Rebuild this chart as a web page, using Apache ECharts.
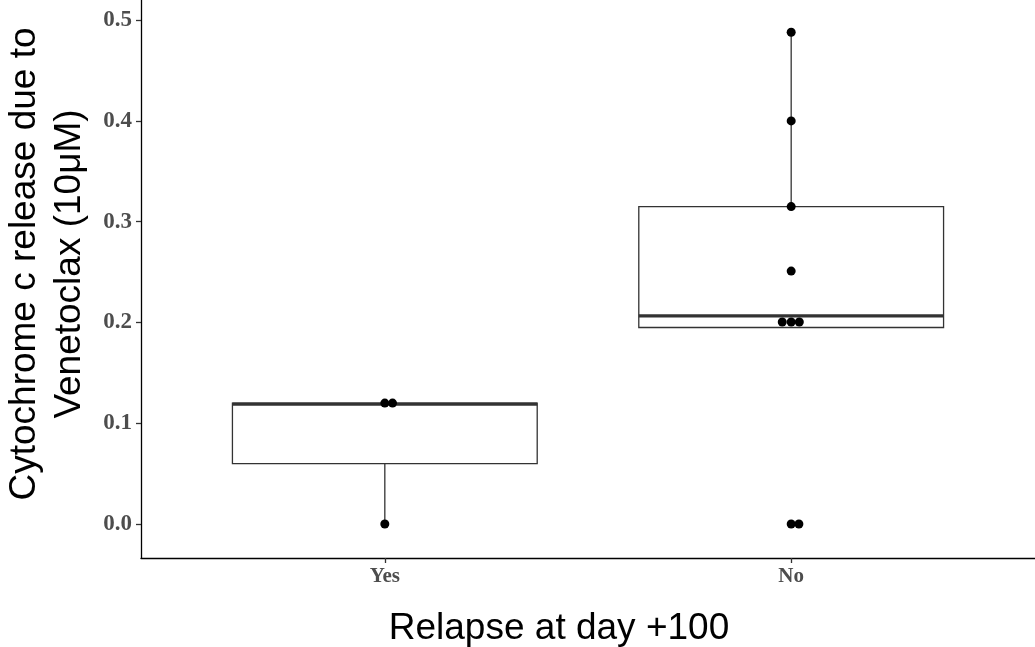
<!DOCTYPE html>
<html lang="en">
<head>
    <meta charset="UTF-8">
    <title>Cytochrome c release vs relapse</title>
    <script src="https://cdn.jsdelivr.net/npm/echarts/dist/echarts.min.js"></script>
    <style>
        html, body { margin: 0; padding: 0; background: #fff; }
        #main { width: 1035px; height: 647px; }
    </style>
</head>
<body>
    <div id="main"></div>
    <script>
        // groups on the x axis
        var categories = ['Yes', 'No'];

        // box statistics per group: [lower whisker, Q1, median, Q3, upper whisker]
        var boxStats = [
            [0.0, 0.06, 0.119, 0.12, 0.12],
            [0.195, 0.195, 0.2065, 0.315, 0.488]
        ];

        // individual observations: group index, value, jitter (x units)
        var pointGroup = [0, 0, 0, 1, 1, 1, 1, 1, 1, 1, 1, 1];
        var pointValue = [0.12, 0.12, 0.0, 0.488, 0.40, 0.315, 0.251, 0.2005, 0.2005, 0.2005, 0.0, 0.0];
        var pointJitter = [0, 0.019, 0, 0, 0, 0, 0, -0.022, 0, 0.02, 0, 0.019];

        var yTicks = [0, 0.1, 0.2, 0.3, 0.4, 0.5];

        var chart = echarts.init(document.getElementById('main'));

        var boxHalf = 0.375;
        var boxData = boxStats.map(function (s, i) {
            return [i + 1].concat(s);
        });
        var pointData = pointValue.map(function (v, i) {
            return [pointGroup[i] + 1 + pointJitter[i], v];
        });

        function renderBox(params, api) {
            var x = api.value(0);
            var lo = api.value(1), q1 = api.value(2), med = api.value(3), q3 = api.value(4), hi = api.value(5);
            var tl = api.coord([x - boxHalf, q3]);
            var br = api.coord([x + boxHalf, q1]);
            var mL = api.coord([x - boxHalf, med]);
            var mR = api.coord([x + boxHalf, med]);
            var wTop = api.coord([x, hi]);
            var wQ3 = api.coord([x, q3]);
            var wQ1 = api.coord([x, q1]);
            var wBot = api.coord([x, lo]);
            var stroke = { stroke: '#333333', lineWidth: 1.3 };
            return {
                type: 'group',
                children: [
                    { type: 'line', shape: { x1: wTop[0], y1: wTop[1], x2: wQ3[0], y2: wQ3[1] }, style: stroke },
                    { type: 'line', shape: { x1: wQ1[0], y1: wQ1[1], x2: wBot[0], y2: wBot[1] }, style: stroke },
                    {
                        type: 'rect',
                        shape: { x: tl[0], y: tl[1], width: br[0] - tl[0], height: br[1] - tl[1] },
                        style: { fill: '#ffffff', stroke: '#333333', lineWidth: 1.3 }
                    },
                    { type: 'line', shape: { x1: mL[0], y1: mL[1], x2: mR[0], y2: mR[1] }, style: { stroke: '#333333', lineWidth: 3.2 } }
                ]
            };
        }

        var option = {
            backgroundColor: '#ffffff',
            animation: false,
            grid: { left: 141, right: 0, top: 0, bottom: 89, outerBoundsMode: 'none', containLabel: false },
            xAxis: {
                type: 'value',
                min: 0.4,
                max: 2.6,
                name: 'Relapse at day +100',
                nameLocation: 'middle',
                nameGap: 52,
                nameTextStyle: { fontFamily: 'Liberation Sans', fontSize: 37, color: '#000', padding: [0, 58, 0, 0] },
                splitLine: { show: false },
                axisLine: { show: true, onZero: false, lineStyle: { color: '#000', width: 1.3 } },
                axisTick: { show: true, length: 5, customValues: [1, 2], lineStyle: { color: '#333', width: 1.3 } },
                axisLabel: {
                    customValues: [1, 2],
                    margin: 8,
                    fontFamily: 'Liberation Serif',
                    fontWeight: 'bold',
                    fontSize: 21,
                    color: '#4d4d4d',
                    formatter: function (v) { return categories[Math.round(v) - 1]; }
                }
            },
            yAxis: {
                type: 'value',
                min: -0.0337,
                max: 0.52,
                name: 'Cytochrome c release due to\nVenetoclax (10μM)',
                nameLocation: 'middle',
                nameRotate: 90,
                nameGap: 47,
                nameTextStyle: { fontFamily: 'Liberation Sans', fontSize: 37, lineHeight: 45, color: '#000', padding: [0, 0, 0, 30] },
                splitLine: { show: false },
                axisLine: { show: true, onZero: false, lineStyle: { color: '#000', width: 1.3 } },
                axisTick: { show: true, length: 5, customValues: yTicks, lineStyle: { color: '#333', width: 1.3 } },
                axisLabel: {
                    customValues: yTicks,
                    margin: 9,
                    fontFamily: 'Liberation Serif',
                    fontWeight: 'bold',
                    fontSize: 23,
                    color: '#4d4d4d',
                    formatter: function (v) { return v.toFixed(1); }
                }
            },
            series: [
                {
                    type: 'custom',
                    renderItem: renderBox,
                    data: boxData,
                    z: 2
                },
                {
                    type: 'scatter',
                    data: pointData,
                    symbolSize: 9,
                    itemStyle: { color: '#000', opacity: 1 },
                    z: 5
                }
            ]
        };

        chart.setOption(option);
    </script>
</body>
</html>
